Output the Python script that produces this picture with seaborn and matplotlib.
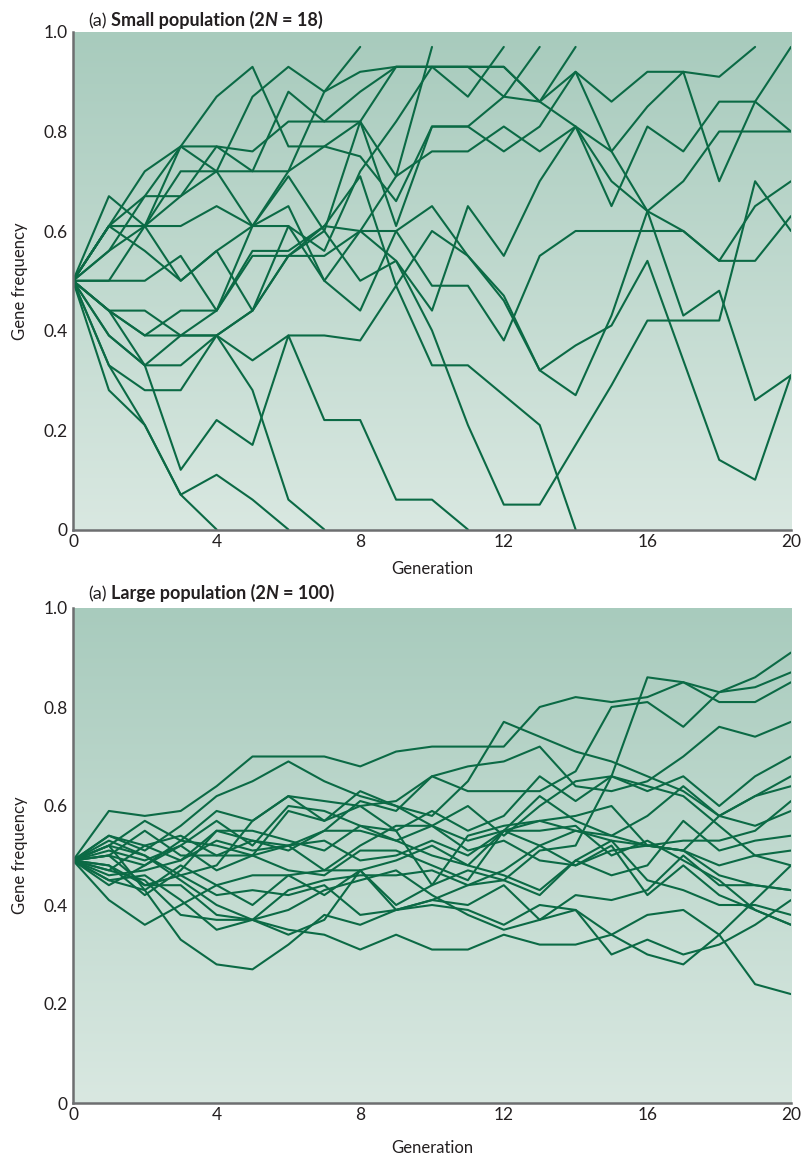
import numpy as np
import pandas as pd
import matplotlib
matplotlib.use("Agg")
import matplotlib.pyplot as plt
import seaborn as sns
from matplotlib.colors import LinearSegmentedColormap

# ---------------- data ----------------
generations = list(range(21))

# small population (2N = 18): gene frequency per generation for each replicate
s01 = [0.50, 0.61, 0.67, 0.77, 0.72, 0.72, 0.72, 0.88, 0.97]
s02 = [0.50, 0.50, 0.61, 0.67, 0.77, 0.76, 0.82, 0.82, 0.82, 0.71, 0.97]
s03 = [0.50, 0.61, 0.72, 0.77, 0.87, 0.93, 0.77, 0.77, 0.82, 0.93, 0.93, 0.87, 0.97]
s04 = [0.50, 0.61, 0.61, 0.72, 0.72, 0.87, 0.93, 0.88, 0.92, 0.93, 0.93, 0.93, 0.87, 0.97]
s05 = [0.50, 0.67, 0.61, 0.77, 0.77, 0.72, 0.88, 0.82, 0.88, 0.93, 0.93, 0.93, 0.93, 0.86, 0.97]
s06 = [0.50, 0.56, 0.67, 0.67, 0.72, 0.61, 0.72, 0.77, 0.75, 0.66, 0.81, 0.81, 0.76, 0.81, 0.92, 0.86, 0.92, 0.92, 0.91, 0.97]
s07 = [0.50, 0.44, 0.39, 0.39, 0.44, 0.56, 0.56, 0.61, 0.60, 0.71, 0.76, 0.76, 0.81, 0.76, 0.81, 0.76, 0.85, 0.92, 0.70, 0.86, 0.97]
s08 = [0.50, 0.61, 0.61, 0.50, 0.56, 0.61, 0.71, 0.60, 0.82, 0.61, 0.81, 0.81, 0.87, 0.86, 0.81, 0.65, 0.81, 0.76, 0.86, 0.86, 0.80]
s09 = [0.50, 0.56, 0.61, 0.61, 0.65, 0.61, 0.61, 0.56, 0.72, 0.82, 0.93, 0.93, 0.93, 0.86, 0.92, 0.76, 0.64, 0.70, 0.80, 0.80, 0.80]
s10 = [0.50, 0.50, 0.50, 0.55, 0.44, 0.55, 0.55, 0.60, 0.50, 0.54, 0.44, 0.65, 0.55, 0.70, 0.81, 0.70, 0.64, 0.60, 0.54, 0.65, 0.70]
s11 = [0.50, 0.44, 0.39, 0.44, 0.44, 0.61, 0.65, 0.50, 0.44, 0.60, 0.49, 0.49, 0.38, 0.55, 0.60, 0.60, 0.60, 0.60, 0.54, 0.54, 0.63]
s12 = [0.50, 0.39, 0.33, 0.33, 0.39, 0.44, 0.61, 0.50, 0.60, 0.54, 0.40, 0.21, 0.05, 0.05, 0.17, 0.29, 0.42, 0.42, 0.42, 0.70, 0.60]
s13 = [0.50, 0.44, 0.44, 0.39, 0.39, 0.34, 0.39, 0.39, 0.38, 0.49, 0.33, 0.33, 0.27, 0.21, 0.00]
s14 = [0.50, 0.61, 0.56, 0.50, 0.56, 0.44, 0.55, 0.61, 0.71, 0.49, 0.60, 0.55, 0.47, 0.32, 0.27, 0.43, 0.64, 0.43, 0.48, 0.26, 0.31]
s15 = [0.50, 0.33, 0.28, 0.28, 0.39, 0.44, 0.55, 0.55, 0.60, 0.60, 0.65, 0.55, 0.46, 0.32, 0.37, 0.41, 0.54, 0.34, 0.14, 0.10, 0.31]
s16 = [0.50, 0.33, 0.21, 0.07, 0.00]
s17 = [0.50, 0.28, 0.21, 0.07, 0.11, 0.06, 0.00]
s18 = [0.50, 0.39, 0.33, 0.39, 0.39, 0.28, 0.06, 0.00]
s19 = [0.50, 0.44, 0.33, 0.12, 0.22, 0.17, 0.39, 0.22, 0.22, 0.06, 0.06, 0.00]

# large population (2N = 100)
b01 = [0.49, 0.59, 0.58, 0.59, 0.64, 0.70, 0.70, 0.70, 0.68, 0.71, 0.72, 0.72, 0.72, 0.80, 0.82, 0.81, 0.82, 0.85, 0.83, 0.84, 0.87]
b02 = [0.49, 0.54, 0.51, 0.56, 0.62, 0.65, 0.69, 0.65, 0.62, 0.60, 0.58, 0.65, 0.77, 0.74, 0.71, 0.69, 0.66, 0.63, 0.58, 0.62, 0.66]
b03 = [0.49, 0.52, 0.57, 0.53, 0.59, 0.57, 0.62, 0.61, 0.60, 0.61, 0.66, 0.63, 0.63, 0.63, 0.67, 0.80, 0.81, 0.76, 0.83, 0.86, 0.91]
b04 = [0.49, 0.50, 0.55, 0.50, 0.50, 0.50, 0.59, 0.57, 0.63, 0.60, 0.56, 0.60, 0.54, 0.60, 0.65, 0.66, 0.86, 0.85, 0.81, 0.81, 0.85]
b05 = [0.49, 0.47, 0.52, 0.54, 0.50, 0.53, 0.51, 0.55, 0.61, 0.59, 0.66, 0.68, 0.69, 0.72, 0.64, 0.63, 0.65, 0.70, 0.76, 0.74, 0.77]
b06 = [0.49, 0.52, 0.50, 0.46, 0.48, 0.57, 0.62, 0.57, 0.60, 0.55, 0.59, 0.55, 0.58, 0.66, 0.61, 0.66, 0.63, 0.66, 0.60, 0.66, 0.70]
b07 = [0.49, 0.48, 0.42, 0.47, 0.55, 0.53, 0.52, 0.55, 0.55, 0.53, 0.56, 0.53, 0.55, 0.57, 0.58, 0.60, 0.52, 0.53, 0.53, 0.55, 0.61]
b08 = [0.49, 0.54, 0.52, 0.49, 0.55, 0.55, 0.53, 0.51, 0.56, 0.55, 0.44, 0.54, 0.56, 0.57, 0.55, 0.54, 0.58, 0.64, 0.58, 0.56, 0.59]
b09 = [0.49, 0.51, 0.49, 0.52, 0.47, 0.50, 0.52, 0.47, 0.52, 0.56, 0.56, 0.51, 0.53, 0.49, 0.48, 0.51, 0.52, 0.51, 0.46, 0.44, 0.43]
b10 = [0.49, 0.46, 0.47, 0.49, 0.53, 0.51, 0.52, 0.53, 0.49, 0.50, 0.53, 0.50, 0.55, 0.52, 0.55, 0.53, 0.52, 0.51, 0.58, 0.62, 0.64]
b11 = [0.49, 0.45, 0.43, 0.48, 0.44, 0.40, 0.46, 0.42, 0.47, 0.40, 0.44, 0.47, 0.45, 0.42, 0.49, 0.46, 0.48, 0.57, 0.51, 0.53, 0.54]
b12 = [0.49, 0.44, 0.48, 0.53, 0.52, 0.50, 0.47, 0.46, 0.51, 0.51, 0.48, 0.45, 0.55, 0.62, 0.57, 0.54, 0.52, 0.51, 0.48, 0.50, 0.51]
b13 = [0.49, 0.48, 0.44, 0.44, 0.38, 0.37, 0.43, 0.45, 0.46, 0.46, 0.47, 0.44, 0.45, 0.51, 0.52, 0.66, 0.64, 0.62, 0.56, 0.50, 0.48]
b14 = [0.49, 0.50, 0.44, 0.46, 0.42, 0.43, 0.42, 0.44, 0.38, 0.39, 0.41, 0.40, 0.44, 0.37, 0.42, 0.41, 0.43, 0.50, 0.44, 0.44, 0.43]
b15 = [0.49, 0.47, 0.45, 0.38, 0.37, 0.37, 0.34, 0.37, 0.47, 0.39, 0.41, 0.44, 0.47, 0.52, 0.48, 0.52, 0.42, 0.48, 0.42, 0.39, 0.36]
b16 = [0.49, 0.41, 0.36, 0.40, 0.44, 0.46, 0.46, 0.47, 0.47, 0.49, 0.52, 0.48, 0.46, 0.43, 0.49, 0.53, 0.45, 0.43, 0.40, 0.40, 0.38]
b17 = [0.49, 0.52, 0.43, 0.33, 0.28, 0.27, 0.32, 0.38, 0.36, 0.39, 0.40, 0.39, 0.36, 0.40, 0.39, 0.34, 0.38, 0.39, 0.34, 0.41, 0.48]
b18 = [0.49, 0.45, 0.46, 0.41, 0.35, 0.37, 0.35, 0.34, 0.31, 0.34, 0.31, 0.31, 0.34, 0.32, 0.32, 0.34, 0.30, 0.28, 0.34, 0.24, 0.22]
b19 = [0.49, 0.53, 0.50, 0.45, 0.40, 0.37, 0.39, 0.43, 0.45, 0.47, 0.42, 0.38, 0.35, 0.37, 0.39, 0.30, 0.33, 0.30, 0.32, 0.36, 0.41]
b20 = [0.49, 0.50, 0.48, 0.52, 0.57, 0.52, 0.60, 0.59, 0.56, 0.53, 0.50, 0.48, 0.55, 0.55, 0.56, 0.50, 0.53, 0.49, 0.45, 0.39, 0.36]

small_runs = [s01, s02, s03, s04, s05, s06, s07, s08, s09, s10,
              s11, s12, s13, s14, s15, s16, s17, s18, s19]
large_runs = [b01, b02, b03, b04, b05, b06, b07, b08, b09, b10,
              b11, b12, b13, b14, b15, b16, b17, b18, b19, b20]

x_ticks = [0, 4, 8, 12, 16, 20]
x_tick_labels = ["0", "4", "8", "12", "16", "20"]
y_ticks = [0, 0.2, 0.4, 0.6, 0.8, 1.0]
y_tick_labels = ["0", "0.2", "0.4", "0.6", "0.8", "1.0"]
x_label = "Generation"
y_label = "Gene frequency"
titles = [("(a)", "Small population (2", "N", "= 18)"),
          ("(a)", "Large population (2", "N", "= 100)")]

# ---------------- style ----------------
sns.set_theme(style="white")
plt.rcParams['font.family'] = ['Lato', 'DejaVu Sans']
LINE = "#0b6a45"
TXT = "#231f20"
bg_cmap = LinearSegmentedColormap.from_list("bg", ["#a8cbbd", "#d9e8e1"])

W, H = 805, 1159
fig = plt.figure(figsize=(W / 100, H / 100), dpi=100)
fig.patch.set_facecolor("white")


def long_frame(runs):
    rows = []
    for i, run in enumerate(runs):
        for g, v in zip(generations, run):
            rows.append({"run": i, "generation": g, "freq": v})
    return pd.DataFrame(rows)


def rich_title(x_px, y_px, parts, size=13):
    renderer = fig.canvas.get_renderer()
    styles = [("normal", "normal"), ("bold", "normal"), ("bold", "italic"), ("bold", "normal")]
    probe = fig.text(0, 0, "x x", fontsize=size, fontweight="bold")
    probe2 = fig.text(0, 0, "xx", fontsize=size, fontweight="bold")
    space = probe.get_window_extent(renderer).width - probe2.get_window_extent(renderer).width
    probe.remove(); probe2.remove()
    x = x_px
    gaps = [0, space, 0, space]
    for part, (w, st), gap in zip(parts, styles, gaps):
        x += gap
        t = fig.text(x / W, 1 - y_px / H, part, fontsize=size, fontweight=w,
                     fontstyle=st, color=TXT, va="baseline", ha="left")
        x += t.get_window_extent(renderer).width


panels = [
    (small_runs, [73, 529.5, 791, 32], titles[0], 26, 8),
    (large_runs, [73, 1103, 791, 608], titles[1], 599, 12),
]

for runs, (l, b, r, t), title, title_y, xpad in panels:
    ax = fig.add_axes([l / W, 1 - b / H, (r - l) / W, (b - t) / H])
    grad = np.linspace(0, 1, 256).reshape(-1, 1)
    ax.imshow(grad, extent=[0, 20, 0, 1], aspect="auto", cmap=bg_cmap,
              origin="upper", zorder=0, interpolation="bilinear")
    df = long_frame(runs)
    sns.lineplot(data=df, x="generation", y="freq", units="run", estimator=None,
                 color=LINE, linewidth=1.5, ax=ax, zorder=2, sort=False)
    ax.set_xlim(0, 20)
    ax.set_ylim(0, 1)
    ax.set_xticks(x_ticks)
    ax.set_xticklabels(x_tick_labels)
    ax.set_yticks(y_ticks)
    ax.set_yticklabels(y_tick_labels)
    ax.tick_params(direction="in", length=10, width=0.9, color="#231f20",
                   labelsize=12.5, labelcolor=TXT, pad=4)
    ax.tick_params(axis="x", pad=3)
    ax.set_xlabel(x_label, fontsize=12, color=TXT, labelpad=xpad)
    ax.set_ylabel(y_label, fontsize=12, color=TXT, labelpad=11)
    for s in ["top", "right"]:
        ax.spines[s].set_visible(False)
    for s in ["left", "bottom"]:
        ax.spines[s].set_color("#6d6e70")
        ax.spines[s].set_linewidth(1.8)
        ax.spines[s].set_zorder(3)
    ax.set_facecolor("white")
    rich_title(88, title_y, title)

fig.savefig("out.png", dpi=100)
